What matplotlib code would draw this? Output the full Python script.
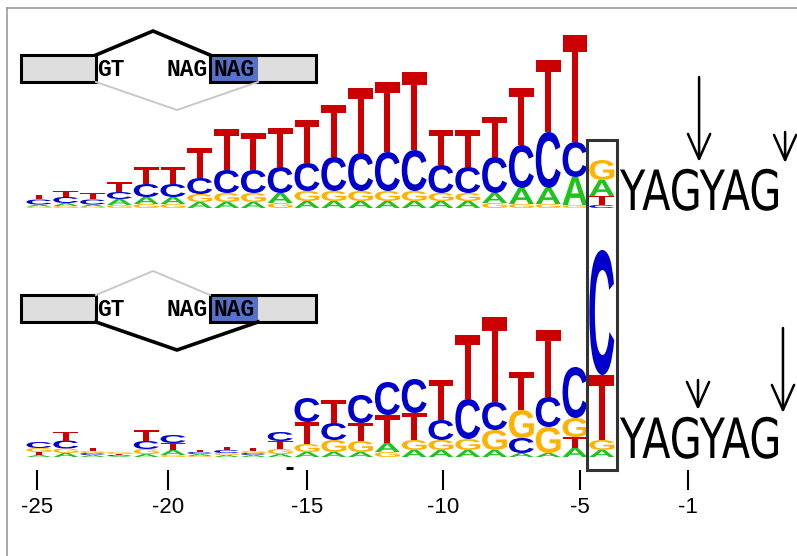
import matplotlib
matplotlib.use("Agg")
import matplotlib.pyplot as plt
from matplotlib.textpath import TextPath
from matplotlib.patches import PathPatch, Rectangle
from matplotlib.font_manager import FontProperties
from matplotlib.transforms import Affine2D
from matplotlib.lines import Line2D
from matplotlib.patheffects import AbstractPathEffect

# ---------------- data ----------------
positions = list(range(-25, -3))          # logo columns -25 .. -4

# upper logo (letter heights, bits)
top_A = [0.02, 0.03, 0.02, 0.06, 0.07, 0.07, 0.06, 0.06, 0.06, 0.10, 0.07,
         0.07, 0.07, 0.07, 0.07, 0.07, 0.07, 0.10, 0.16, 0.16, 0.28, 0.16]
top_C = [0.05, 0.06, 0.05, 0.07, 0.13, 0.13, 0.16, 0.23, 0.23, 0.26, 0.28,
         0.34, 0.38, 0.39, 0.41, 0.28, 0.26, 0.36, 0.43, 0.56, 0.35, 0.03]
top_G = [0.015, 0.02, 0.015, 0.03, 0.04, 0.04, 0.08, 0.09, 0.09, 0.05, 0.10,
         0.10, 0.10, 0.10, 0.10, 0.08, 0.08, 0.05, 0.04, 0.04, 0.03, 0.20]
top_T = [0.05, 0.06, 0.06, 0.10, 0.17, 0.17, 0.30, 0.41, 0.37, 0.39, 0.43,
         0.52, 0.65, 0.70, 0.78, 0.35, 0.37, 0.40, 0.57, 0.72, 1.07, 0.09]

# lower logo (letter heights, bits)
bot_A = [0.02, 0.04, 0.02, 0.01, 0.03, 0.05, 0.02, 0.02, 0.02, 0.03, 0.05,
         0.05, 0.05, 0.09, 0.07, 0.07, 0.07, 0.07, 0.04, 0.04, 0.09, 0.07]
bot_C = [0.06, 0.08, 0.02, 0.01, 0.08, 0.08, 0.02, 0.03, 0.02, 0.09, 0.24,
         0.17, 0.28, 0.33, 0.34, 0.20, 0.40, 0.28, 0.15, 0.30, 0.51, 1.25]
bot_G = [0.04, 0.045, 0.02, 0.02, 0.05, 0.02, 0.01, 0.02, 0.02, 0.05, 0.08,
         0.12, 0.11, 0.05, 0.10, 0.10, 0.11, 0.20, 0.28, 0.26, 0.19, 0.10]
bot_T = [0.03, 0.09, 0.03, 0.01, 0.11, 0.07, 0.02, 0.03, 0.03, 0.08, 0.22,
         0.23, 0.18, 0.28, 0.27, 0.40, 0.64, 0.85, 0.38, 0.67, 0.11, 0.65]

tick_pos = [-25.09, -20.19, -15.0, -9.93, -4.81, -0.77]
tick_labels = ["-25", "-20", "-15", "-10", "-5", "-1"]
flank_seq = "YAGYAG"
diagram_labels = ["GT", "NAG", "NAG"]
highlight_pos = -4

# ---------------- style / layout ----------------
letter_colors = {"A": "#1ec31e", "C": "#0000cc", "G": "#ffb300", "T": "#cc0000"}
W_PX, H_PX = 797, 556
PX_PER_COL = 26.8
REF_PX = 575.0            # pixel centre of column -5
top_base, bot_base = 3.48, 0.99
letter_w = 0.93

fig = plt.figure(figsize=(W_PX / 100, H_PX / 100), dpi=100)
fig.patch.set_facecolor("white")
ax = fig.add_axes([0, 0, 1, 1])
ax.set_xlim(-5 - REF_PX / PX_PER_COL, -5 + (W_PX - REF_PX) / PX_PER_COL)
ax.set_ylim(0, H_PX / 100)
for s in ax.spines.values():
    s.set_visible(False)
ax.spines["bottom"].set_position(("data", 0.86))
ax.set_yticks([])
ax.set_xticks(tick_pos)
ax.set_xticklabels(tick_labels, fontfamily="Liberation Sans", fontsize=16)
ax.tick_params(axis="x", direction="out", length=14.4, width=1.5, pad=5,
               color="black")

fp_logo = FontProperties(family="Liberation Sans", weight="bold")
glyphs = {l: TextPath((0, 0), l, size=1, prop=fp_logo) for l in "ACGT"}


def draw_letter(letter, xc, y0, h):
    p = glyphs[letter]
    e = p.get_extents()
    tr = (Affine2D().translate(-e.x0, -e.y0)
          .scale(letter_w / e.width, h / e.height)
          .translate(xc - letter_w / 2, y0))
    ax.add_patch(PathPatch(tr.transform_path(p), facecolor=letter_colors[letter],
                           edgecolor="none", transform=ax.transData))


def draw_logo(base, heights):
    for i, pos in enumerate(positions):
        col = sorted([(heights[l][i], l) for l in "ACGT"], key=lambda t: t[0])
        y = base
        for h, l in col:
            draw_letter(l, pos, y, h)
            y += h


draw_logo(top_base, {"A": top_A, "C": top_C, "G": top_G, "T": top_T})
draw_logo(bot_base, {"A": bot_A, "C": bot_C, "G": bot_G, "T": bot_T})

# box around column -4
ax.add_patch(Rectangle((highlight_pos - 0.56, bot_base - 0.13), 1.12,
                       (top_base + 0.68) - (bot_base - 0.13), fill=False,
                       edgecolor="#333333", lw=2.2, zorder=5))


# flanking sequence text (compressed tall sans)
class VStretch(AbstractPathEffect):
    def __init__(self, sy):
        super().__init__()
        self.sy = sy
        self.artist = None

    def draw_path(self, renderer, gc, tpath, affine, rgbFace=None):
        yb = self.artist.get_transform().transform(self.artist.get_position())[1]
        t = affine + Affine2D().translate(0, -yb).scale(1, self.sy).translate(0, yb)
        renderer.draw_path(gc, tpath, t, rgbFace)


fp_flank = FontProperties(family="DejaVu Sans")
ext = TextPath((0, 0), flank_seq, size=100, prop=fp_flank).get_extents()
flank_w_px, flank_h_px = 158.0, 42.0
em_px = flank_w_px / ext.width * 100
fs_pt = em_px * 72 / 100
sy = flank_h_px / (ext.height / 100 * em_px)
x_left = -5 + (620 - REF_PX) / PX_PER_COL - (ext.x0 / 100 * em_px) / PX_PER_COL
for base in (top_base - 0.02, bot_base - 0.01):
    eff = VStretch(sy)
    t = ax.text(x_left, base, flank_seq, fontsize=fs_pt, ha="left", va="baseline",
                fontproperties=fp_flank, color="black", path_effects=[eff])
    t.set_fontsize(fs_pt)
    eff.artist = t

# cleavage-site arrows (tip x, tip y, length)
arrows = [(-0.37, 3.94, 0.85), (2.84, 3.93, 0.31),
          (-0.41, 1.46, 0.30), (2.76, 1.43, 0.85)]
for xa, ya, ln in arrows:
    ax.annotate("", xy=(xa, ya), xytext=(xa, ya + ln),
                arrowprops=dict(arrowstyle="->,head_length=0.9,head_width=0.4",
                                lw=1.8, color="black", mutation_scale=20,
                                shrinkA=0, shrinkB=0))

# small stray dash near -15 tick
ax.plot([-15.78, -15.52], [0.88, 0.88], color="black", lw=2.2,
        solid_capstyle="butt")


# ---------------- splicing diagrams ----------------
def draw_diagram(top_px, upper_bold):
    dax = fig.add_axes([15 / W_PX, 1 - (top_px + 90) / H_PX, 310 / W_PX, 90 / H_PX])
    dax.set_xlim(0, 310)
    dax.set_ylim(90, 0)
    dax.axis("off")
    dax.patch.set_alpha(0)
    ex1, ex2, hl = (6, 75), (195, 106), 48
    y0, hgt = 30, 27
    dax.add_patch(Rectangle((ex1[0], y0), ex1[1], hgt, facecolor="#dedede", edgecolor="none"))
    dax.add_patch(Rectangle((ex2[0], y0), ex2[1], hgt, facecolor="#dedede", edgecolor="none"))
    dax.add_patch(Rectangle((ex2[0], y0), hl, hgt, facecolor="#5571c9", edgecolor="none"))
    for x0, w in (ex1, ex2):
        dax.add_patch(Rectangle((x0, y0), w, hgt, fill=False, edgecolor="black",
                                lw=2.2, joinstyle="miter"))
    thick = dict(color="black", lw=2.6, solid_joinstyle="miter")
    thin = dict(color="#c8c8c8", lw=1.4)
    up_x, up_y = [ex1[0] + ex1[1], 138, ex2[0]], [y0, 6, y0]
    lo_x, lo_y = [ex1[0] + ex1[1], 162, ex2[0] + hl], [y0 + hgt, 85, y0 + hgt]
    dax.plot(up_x, up_y, **(thick if upper_bold else thin))
    dax.plot(lo_x, lo_y, **(thin if upper_bold else thick))
    for xt, s in zip([96, 172, 219], diagram_labels):
        dax.text(xt, y0 + hgt / 2 + 1, s, ha="center", va="center",
                 family="Liberation Mono", weight="bold", fontsize=16.5)


draw_diagram(25, True)
draw_diagram(265, False)

# thin frame lines (top and left)
fig.add_artist(Line2D([7 / W_PX, 1], [1 - 8 / H_PX] * 2, transform=fig.transFigure,
                      color="#9a9a9a", lw=1.2))
fig.add_artist(Line2D([7 / W_PX] * 2, [0, 1 - 8 / H_PX], transform=fig.transFigure,
                      color="#9a9a9a", lw=1.2))

fig.savefig("out.png", dpi=100, facecolor="white")
